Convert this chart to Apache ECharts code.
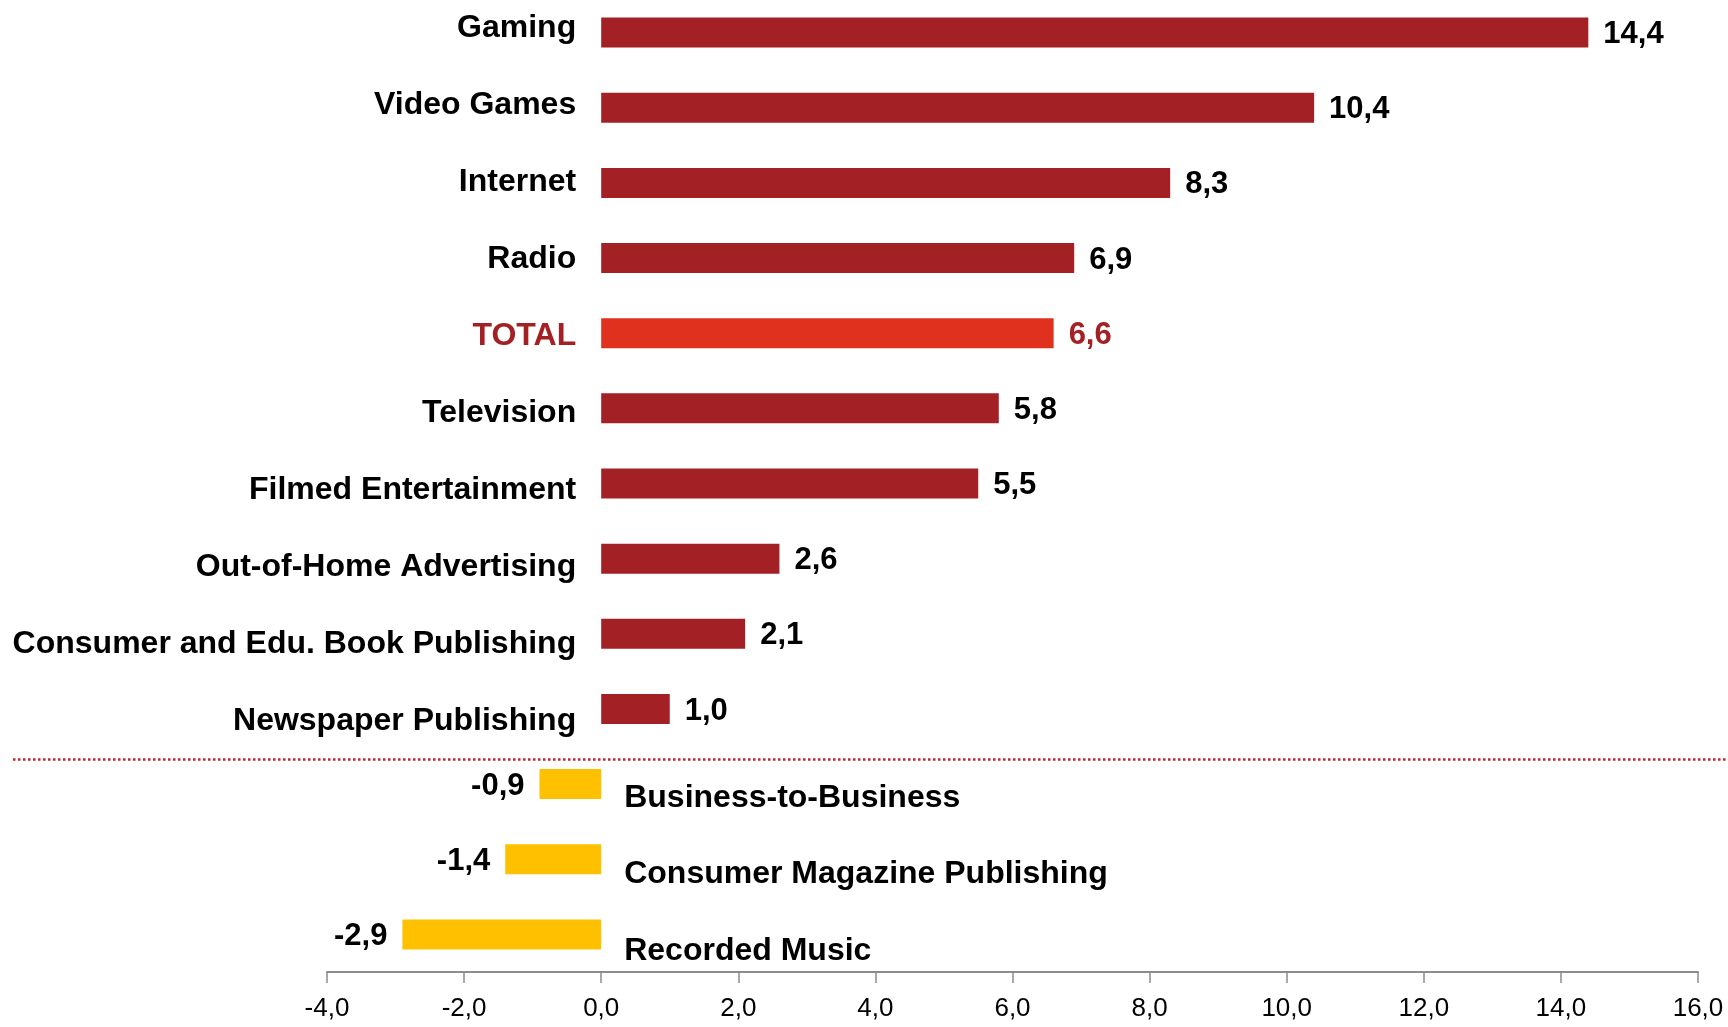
<!DOCTYPE html>
<html>
<head>
<meta charset="utf-8">
<style>
  html, body { margin: 0; padding: 0; background: #ffffff; overflow: hidden; }
  #wrap { position: relative; width: 1728px; height: 1027px; overflow: hidden; }
  #chart { position: absolute; left: 0; top: -20px; width: 1728px; height: 1047px; }
</style>
<script src="https://cdn.jsdelivr.net/npm/echarts@6/dist/echarts.min.js"></script>
</head>
<body>
<div id="wrap"><div id="chart"></div></div>
<script>
// Segment growth rates, top to bottom
const categories = [
  'Gaming', 'Video Games', 'Internet', 'Radio', 'TOTAL', 'Television',
  'Filmed Entertainment', 'Out-of-Home Advertising',
  'Consumer and Edu. Book Publishing', 'Newspaper Publishing',
  'Business-to-Business', 'Consumer Magazine Publishing', 'Recorded Music'
];
const values = [14.4, 10.4, 8.3, 6.9, 6.6, 5.8, 5.5, 2.6, 2.1, 1.0, -0.9, -1.4, -2.9];
const totalName = 'TOTAL';
const xTicks = { min: -4, max: 16, interval: 2 };

const FONT = '"Liberation Sans", Arial, sans-serif';
const DARK_RED = '#A32024';
const TOTAL_RED = '#E0311F';
const AMBER = '#FFC000';

const fmt = v => v.toFixed(1).replace('.', ',');

// the canvas is shifted up by this much so the first rows can sit near the top edge
const SHIFT = 20;

// pixel scale of the value axis: -4 .. 16 across the plot
const plotLeft = 327, plotRight = 1698;
const pxPerUnit = (plotRight - plotLeft) / (xTicks.max - xTicks.min);
const zeroX = plotLeft + (0 - xTicks.min) * pxPerUnit;

// overlay grid spans the page width so the separator reaches the edges
const ovLeft = 13, ovRight = 1728;
const ovMin = -(zeroX - ovLeft) / pxPerUnit;
const ovMax = (ovRight - zeroX) / pxPerUnit;

const barData = values.map((v, i) => {
  const isTotal = categories[i] === totalName;
  const neg = v < 0;
  return {
    value: v,
    itemStyle: { color: isTotal ? TOTAL_RED : (neg ? AMBER : DARK_RED) },
    label: {
      position: neg ? 'left' : 'right',
      color: isTotal ? DARK_RED : '#000000'
    }
  };
});

const nameData = categories.map((c, i) => {
  const neg = values[i] < 0;
  return {
    value: [0, i],
    name: c,
    label: {
      position: neg ? 'right' : 'left',
      distance: neg ? 23 : 25,
      color: c === totalName ? DARK_RED : '#000000'
    }
  };
});

const chart = echarts.init(document.getElementById('chart'), null, { renderer: 'canvas' });
chart.setOption({
  animation: false,
  backgroundColor: '#ffffff',
  grid: [
    { left: plotLeft, right: 1728 - plotRight, top: SHIFT - 5, height: 977 },
    { left: ovLeft, right: 1728 - ovRight, top: SHIFT - 10, height: 1000 }
  ],
  xAxis: [
    {
      gridIndex: 0, type: 'value',
      min: xTicks.min, max: xTicks.max, interval: xTicks.interval,
      axisLine: { show: true, onZero: false, lineStyle: { color: '#8c8c8c', width: 2 } },
      axisTick: { show: true, length: 11, lineStyle: { color: '#8c8c8c', width: 1.5 } },
      splitLine: { show: false },
      axisLabel: {
        formatter: v => fmt(v), color: '#000000', fontFamily: FONT,
        fontSize: 26, margin: 24
      }
    },
    {
      gridIndex: 1, type: 'value', min: ovMin, max: ovMax, show: false,
      splitLine: { show: false }
    }
  ],
  yAxis: [
    {
      gridIndex: 0, type: 'category', data: categories, inverse: true,
      axisLine: { show: false }, axisTick: { show: false },
      axisLabel: { show: false }, splitLine: { show: false }
    },
    {
      gridIndex: 1, type: 'value', min: -0.5, max: categories.length - 0.5,
      inverse: true, show: false, splitLine: { show: false }
    }
  ],
  series: [
    {
      type: 'bar', xAxisIndex: 0, yAxisIndex: 0,
      data: barData, barWidth: 30,
      label: {
        show: true, distance: 15, fontFamily: FONT, fontWeight: 'bold',
        fontSize: 31, offset: [0, 2], formatter: p => fmt(p.value)
      }
    },
    {
      type: 'scatter', xAxisIndex: 1, yAxisIndex: 1,
      symbolSize: 0, silent: true, clip: false,
      itemStyle: { opacity: 1 },
      data: nameData,
      label: {
        show: true, fontFamily: FONT, fontWeight: 'bold', fontSize: 32,
        formatter: p => p.name
      },
      markLine: {
        silent: true, symbol: 'none', label: { show: false },
        lineStyle: { color: '#C0262B', type: 'dotted', width: 2.5, opacity: 1 },
        data: [{ yAxis: values.filter(v => v >= 0).length - 0.5 }]
      }
    }
  ]
});
</script>
</body>
</html>
